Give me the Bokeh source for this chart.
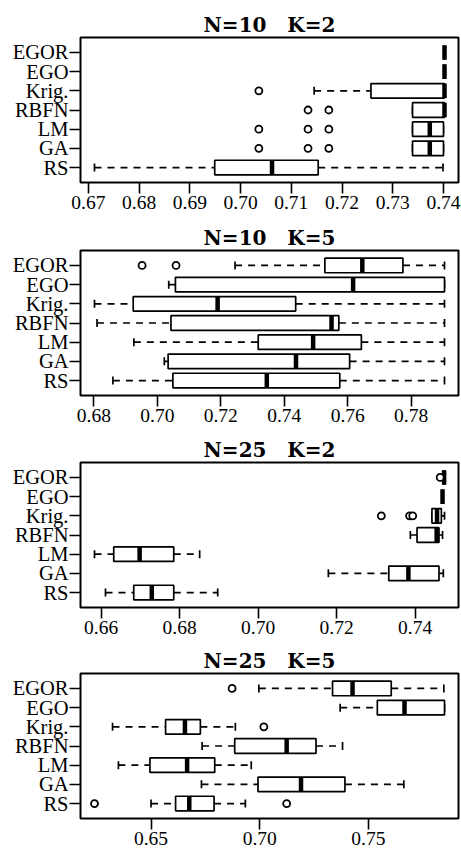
import numpy as np
from bokeh.plotting import figure
from bokeh.layouts import column
from bokeh.models import ColumnDataSource, Range1d, FixedTicker, PrintfTickFormatter
from bokeh.embed import file_html
from bokeh.resources import INLINE

categories = ["EGOR", "EGO", "Krig.", "RBFN", "LM", "GA", "RS"]

# Panel 1: N=10 K=2
p1_title = "N=10\u00a0\u00a0\u00a0K=2"
p1_low = [0.7402, 0.7402, 0.7145, 0.7339, 0.7339, 0.7339, 0.6712]
p1_q1 = [0.7402, 0.7402, 0.7257, 0.7339, 0.7339, 0.7339, 0.6949]
p1_med = [0.7402, 0.7402, 0.7402, 0.7402, 0.7373, 0.7373, 0.7062]
p1_q3 = [0.7402, 0.7402, 0.7402, 0.7402, 0.7400, 0.7400, 0.7153]
p1_high = [0.7402, 0.7402, 0.7402, 0.7402, 0.7400, 0.7400, 0.7399]
p1_out = [[], [], [0.7036], [0.7133, 0.7174], [0.7036, 0.7133, 0.7174],
          [0.7036, 0.7133, 0.7174], []]
p1_ticks = [0.67, 0.68, 0.69, 0.70, 0.71, 0.72, 0.73, 0.74]

# Panel 2: N=10 K=5
p2_title = "N=10\u00a0\u00a0\u00a0K=5"
p2_low = [0.7245, 0.7036, 0.6802, 0.6810, 0.6926, 0.7022, 0.6860]
p2_q1 = [0.7528, 0.7057, 0.6924, 0.7043, 0.7318, 0.7034, 0.7049]
p2_med = [0.7646, 0.7617, 0.7190, 0.7549, 0.7491, 0.7437, 0.7345]
p2_q3 = [0.7774, 0.7905, 0.7436, 0.7572, 0.7643, 0.7606, 0.7575]
p2_high = [0.7905, 0.7905, 0.7905, 0.7905, 0.7905, 0.7905, 0.7905]
p2_out = [[0.6952, 0.7059], [], [], [], [], [], []]
p2_ticks = [0.68, 0.70, 0.72, 0.74, 0.76, 0.78]

# Panel 3: N=25 K=2
p3_title = "N=25\u00a0\u00a0\u00a0K=2"
p3_low = [0.7474, 0.7470, 0.7443, 0.7388, 0.6583, 0.7179, 0.6611]
p3_q1 = [0.7474, 0.7470, 0.7443, 0.7405, 0.6632, 0.7333, 0.6683]
p3_med = [0.7474, 0.7470, 0.7456, 0.7455, 0.6698, 0.7383, 0.6729]
p3_q3 = [0.7474, 0.7470, 0.7467, 0.7461, 0.6785, 0.7461, 0.6785]
p3_high = [0.7474, 0.7470, 0.7475, 0.7470, 0.6851, 0.7472, 0.6897]
p3_out = [[0.7464], [], [0.7314, 0.7386, 0.7394], [], [], [], []]
p3_ticks = [0.66, 0.68, 0.70, 0.72, 0.74]

# Panel 4: N=25 K=5
p4_title = "N=25\u00a0\u00a0\u00a0K=5"
p4_low = [0.6996, 0.7370, 0.6323, 0.6735, 0.6350, 0.6732, 0.6500]
p4_q1 = [0.7335, 0.7541, 0.6567, 0.6885, 0.6495, 0.6992, 0.6613]
p4_med = [0.7427, 0.7666, 0.6656, 0.7124, 0.6666, 0.7190, 0.6676]
p4_q3 = [0.7605, 0.7850, 0.6727, 0.7259, 0.6793, 0.7392, 0.6790]
p4_high = [0.7847, 0.7850, 0.6888, 0.7381, 0.6961, 0.7663, 0.6934]
p4_out = [[0.6873], [], [0.7019], [], [], [], [0.6240, 0.7124]]
p4_ticks = [0.65, 0.70, 0.75]

panels = [
    (p1_title, p1_low, p1_q1, p1_med, p1_q3, p1_high, p1_out, p1_ticks),
    (p2_title, p2_low, p2_q1, p2_med, p2_q3, p2_high, p2_out, p2_ticks),
    (p3_title, p3_low, p3_q1, p3_med, p3_q3, p3_high, p3_out, p3_ticks),
    (p4_title, p4_low, p4_q1, p4_med, p4_q3, p4_high, p4_out, p4_ticks),
]

fig_heights = [216, 212, 213, 211]
top_borders = [37, 34, 34, 32]
bottom_borders = [34, 33, 34, 34]
BOXW = 0.76
LABEL_FONT = "Liberation Serif"

figs = []
for k, (title, low, q1, med, q3, high, outs, ticks) in enumerate(panels):
    n = len(categories)
    ypos = [n - i for i in range(n)]
    allv = low + high + [v for o in outs for v in o]
    lo, hi = min(allv), max(allv)
    pad = 0.04 * (hi - lo)

    p = figure(width=461, height=fig_heights[k], output_backend="svg",
               toolbar_location=None,
               x_range=Range1d(lo - pad, hi + pad),
               y_range=Range1d(0.5 - 0.04 * n, n + 0.5 + 0.04 * n),
               min_border_left=80, min_border_right=3,
               min_border_top=top_borders[k], min_border_bottom=bottom_borders[k])
    p.title.text = title
    p.title.align = "center"
    p.title.text_font = "DejaVu Serif"
    p.title.text_font_style = "bold"
    p.title.text_font_size = "20px"
    p.title.text_color = "black"
    p.title.standoff = 2

    p.xgrid.visible = False
    p.ygrid.visible = False
    p.outline_line_color = "black"
    p.outline_line_width = 2
    p.background_fill_color = "white"
    p.border_fill_color = "white"

    src = ColumnDataSource(dict(y=ypos, low=low, q1=q1, med=med, q3=q3, high=high))
    # whiskers
    p.segment(x0="low", x1="q1", y0="y", y1="y", source=src,
              line_color="black", line_width=1.7, line_dash="7 6")
    p.segment(x0="q3", x1="high", y0="y", y1="y", source=src,
              line_color="black", line_width=1.7, line_dash="7 6")
    # staples
    p.scatter(x="low", y="y", source=src, marker="dash", angle=np.pi / 2,
              size=8, line_color="black", line_width=1.7)
    p.scatter(x="high", y="y", source=src, marker="dash", angle=np.pi / 2,
              size=8, line_color="black", line_width=1.7)
    # boxes
    p.hbar(y="y", left="q1", right="q3", height=BOXW, source=src,
           fill_color="white", line_color="black", line_width=1.7)
    # medians
    p.rect(x="med", y="y", width=4.5, width_units="screen", height=BOXW,
           source=src, fill_color="black", line_color=None)
    # outliers
    ox = [v for o in outs for v in o]
    oy = [ypos[i] for i, o in enumerate(outs) for _ in o]
    if ox:
        p.scatter(x=ox, y=oy, marker="circle", size=7, fill_color="white",
                  line_color="black", line_width=1.8)

    xa = p.xaxis[0]
    xa.ticker = FixedTicker(ticks=ticks)
    xa.formatter = PrintfTickFormatter(format="%.2f")
    ya = p.yaxis[0]
    ya.ticker = FixedTicker(ticks=ypos)
    ya.major_label_overrides = {y: c for y, c in zip(ypos, categories)}
    for ax in (xa, ya):
        ax.axis_line_color = None
        ax.major_tick_in = 0
        ax.major_tick_out = 11
        ax.major_tick_line_width = 1.6
        ax.major_tick_line_color = "black"
        ax.minor_tick_line_color = None
        ax.major_label_text_font = LABEL_FONT
        ax.major_label_text_color = "black"
    xa.major_label_text_font_size = "19.5px"
    ya.major_label_text_font_size = "20.5px"
    xa.major_label_standoff = 2
    ya.major_label_standoff = 1
    figs.append(p)

layout = column(*figs, spacing=0)
open("out.html", "w").write(file_html(layout, INLINE))
